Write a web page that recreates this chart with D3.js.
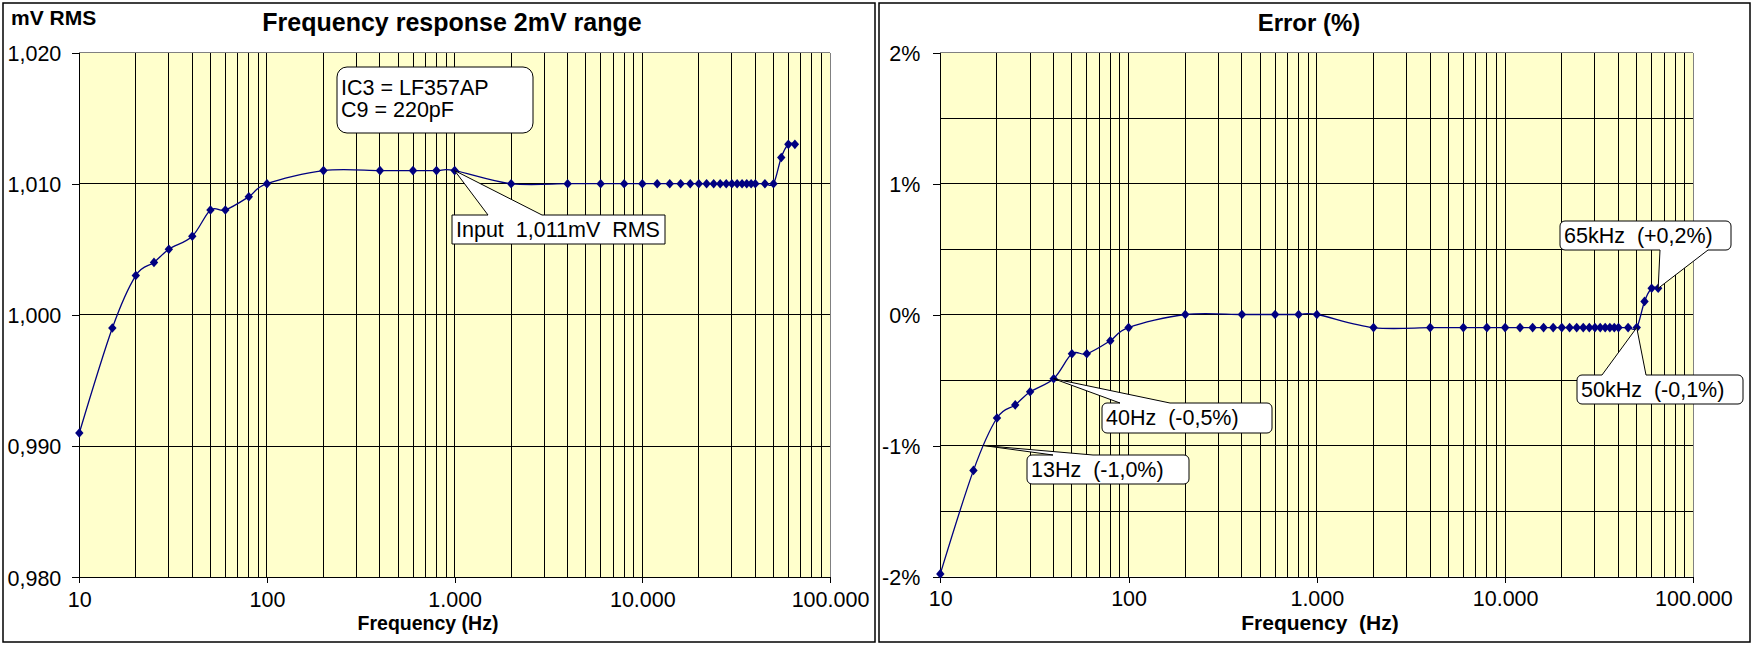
<!DOCTYPE html>
<html><head><meta charset="utf-8">
<script src="https://cdn.jsdelivr.net/npm/d3@7"></script>
<style>
html,body{margin:0;padding:0;background:#fff;}
svg text{font-family:"Liberation Sans",Arial,sans-serif;white-space:pre;}
</style></head><body>
<svg id="c" width="1755" height="648" xml:space="preserve"></svg>
<script>
// ---------- data ----------
const frequencies = [10,15,20,25,30,40,50,60,80,100,
  200,400,600,800,1000,
  2000,4000,6000,8000,
  10000,12000,14000,16000,18000,20000,22000,24000,26000,28000,30000,32000,34000,36000,38000,40000,
  45000,50000,55000,60000,65000];
const voltageMV = [0.991,0.999,1.003,1.004,1.005,1.006,1.008,1.008,1.009,1.010,
  1.011,1.011,1.011,1.011,1.011,
  1.010,1.010,1.010,1.010,
  1.010,1.010,1.010,1.010,1.010,1.010,1.010,1.010,1.010,1.010,1.010,1.010,1.010,1.010,1.010,1.010,
  1.010,1.010,1.012,1.013,1.013];
const errorPercent = [-1.98,-1.19,-0.79,-0.69,-0.59,-0.49,-0.30,-0.30,-0.20,-0.10,
  0,0,0,0,0,
  -0.10,-0.10,-0.10,-0.10,
  -0.10,-0.10,-0.10,-0.10,-0.10,-0.10,-0.10,-0.10,-0.10,-0.10,-0.10,-0.10,-0.10,-0.10,-0.10,-0.10,
  -0.10,-0.10,0.10,0.20,0.20];
const xTickValues = [10,100,1000,10000,100000];
const xTickLabels = ["10","100","1.000","10.000","100.000"];
const voltTickValues = [0.98,0.99,1.00,1.01,1.02];
const voltTickLabels = ["0,980","0,990","1,000","1,010","1,020"];
const voltGridValues = [0.99,1.00,1.01];
const errTickValues = [-2,-1,0,1,2];
const errTickLabels = ["-2%","-1%","0%","1%","2%"];
const errGridValues = [-1.5,-1,-0.5,0,0.5,1,1.5];

// ---------- drawing ----------
const svg = d3.select("#c");
const FONT = "Liberation Sans, Arial, sans-serif";
const NAVY = "#000080";

const diamond = {draw(ctx){ const w=4.2,h=4.8; ctx.moveTo(0,-h); ctx.lineTo(w,0); ctx.lineTo(0,h); ctx.lineTo(-w,0); ctx.closePath(); }};

function calloutPath(b, r, wedge, x, y){
  const [bx,by,bw,bh] = b;
  const p = d3.path();
  p.moveTo(bx+r, by);
  if (wedge && wedge.side==="top"){ const t=[x(wedge.tip[0]),y(wedge.tip[1])]; p.lineTo(wedge.a,by); p.lineTo(t[0],t[1]); p.lineTo(wedge.b,by); }
  p.lineTo(bx+bw-r, by);
  if (r) p.arcTo(bx+bw,by,bx+bw,by+r,r);
  p.lineTo(bx+bw, by+bh-r);
  if (r) p.arcTo(bx+bw,by+bh,bx+bw-r,by+bh,r);
  if (wedge && wedge.side==="bottom"){ const t=[x(wedge.tip[0]),y(wedge.tip[1])]; p.lineTo(wedge.b,by+bh); p.lineTo(t[0],t[1]); p.lineTo(wedge.a,by+bh); }
  p.lineTo(bx+r, by+bh);
  if (r) p.arcTo(bx,by+bh,bx,by+bh-r,r);
  p.lineTo(bx, by+r);
  if (r) p.arcTo(bx,by,bx+r,by,r);
  p.closePath();
  return p.toString();
}

function panel(cfg){
  const g = svg.append("g");
  g.append("rect").attr("x",cfg.frame[0]).attr("y",cfg.frame[1]).attr("width",cfg.frame[2]).attr("height",cfg.frame[3])
    .attr("fill","#fff").attr("stroke","#000").attr("stroke-width",1.5);
  const x = d3.scaleLog().domain([10,100000]).range([cfg.x0,cfg.x1]);
  const y = d3.scaleLinear().domain(cfg.yDomain).range([cfg.yBottom,cfg.yTop]);
  g.append("rect").attr("x",cfg.x0).attr("y",cfg.yTop).attr("width",cfg.x1-cfg.x0).attr("height",cfg.yBottom-cfg.yTop).attr("fill","#FFFFCC");
  const grid = g.append("g").attr("stroke","#000").attr("stroke-width",1).attr("shape-rendering","crispEdges");
  grid.selectAll("line.v").data(x.ticks().filter(v=>v>10 && v<100000)).join("line").attr("class","v")
    .attr("x1",d=>x(d)).attr("x2",d=>x(d)).attr("y1",cfg.yTop).attr("y2",cfg.yBottom);
  grid.selectAll("line.h").data(cfg.grid).join("line").attr("class","h")
    .attr("x1",cfg.x0).attr("x2",cfg.x1).attr("y1",d=>y(d)).attr("y2",d=>y(d));
  const border = g.append("g").attr("stroke","#808080").attr("shape-rendering","crispEdges");
  border.append("line").attr("x1",cfg.x0).attr("x2",cfg.x1).attr("y1",cfg.yTop).attr("y2",cfg.yTop);
  border.append("line").attr("x1",cfg.x1).attr("x2",cfg.x1).attr("y1",cfg.yTop).attr("y2",cfg.yBottom);

  const yAxis = d3.axisLeft(y).tickValues(cfg.yTicks).tickFormat(d=>cfg.yLabels[cfg.yTicks.indexOf(d)])
    .tickSize(7).tickSizeOuter(0).tickPadding(cfg.yPad);
  const ya = g.append("g").attr("transform",`translate(${cfg.x0},0)`).call(yAxis)
    .attr("font-family",FONT).attr("font-size",cfg.tickFont).attr("shape-rendering","crispEdges");
  ya.selectAll("text").attr("fill","#000").attr("dy","0.36em");
  ya.selectAll("line,path").attr("stroke","#000");

  const xAxis = d3.axisBottom(x).tickValues(xTickValues).tickFormat(d=>xTickLabels[xTickValues.indexOf(d)])
    .tickSize(6).tickSizeOuter(0).tickPadding(8);
  const xa = g.append("g").attr("transform",`translate(0,${cfg.yBottom})`).call(xAxis)
    .attr("font-family",FONT).attr("font-size",cfg.tickFont).attr("shape-rendering","crispEdges");
  xa.selectAll("text").attr("fill","#000");
  xa.selectAll("line,path").attr("stroke","#000");

  const pts = frequencies.map((f,i)=>({f, v: cfg.values[i]}));
  g.append("path").datum(pts).attr("fill","none").attr("stroke",NAVY).attr("stroke-width",1.3)
    .attr("d", d3.line().x(d=>x(d.f)).y(d=>y(d.v)).curve(d3.curveCardinal.tension(0)));
  g.selectAll("path.m").data(pts).join("path").attr("class","m")
    .attr("transform",d=>`translate(${x(d.f)},${y(d.v)})`)
    .attr("d", d3.symbol().type(diamond)()).attr("fill",NAVY);

  // titles
  g.append("text").attr("x",cfg.title[1]).attr("y",31).attr("text-anchor","middle")
    .attr("font-size",cfg.title[2]).attr("font-weight","bold").text(cfg.title[0]);
  g.append("text").attr("x",cfg.xTitle[1]).attr("y",630).attr("text-anchor","middle")
    .attr("font-size",cfg.xTitle[2]).attr("font-weight","bold").text(cfg.xTitle[0]);
  if (cfg.yTitle) g.append("text").attr("x",11).attr("y",25).attr("font-size",21).attr("font-weight","bold").text(cfg.yTitle);

  // callouts
  cfg.callouts.forEach(c=>{
    g.append("path").attr("d",calloutPath(c.box,c.r,c.wedge,x,y)).attr("fill","#fff").attr("stroke","#000").attr("stroke-width",1);
    c.lines.forEach((t,i)=>{
      g.append("text").attr("x",c.box[0]+4).attr("y",c.box[1]+c.base[i]).attr("font-size",21.5).attr("fill","#000").text(t);
    });
  });
}

panel({
  frame:[3,3,872,639], x0:79.3, x1:830, yTop:52.5, yBottom:577.3,
  yDomain:[0.98,1.02], values:voltageMV, grid:voltGridValues,
  yTicks:voltTickValues, yLabels:voltTickLabels, yPad:11, tickFont:21.5,
  title:["Frequency response 2mV range",452,25], xTitle:["Frequency (Hz)",428,19.5], yTitle:"mV RMS",
  callouts:[
    {box:[337,67,196,66], r:10, lines:["IC3 = LF357AP","C9 = 220pF"], base:[28,50]},
    {box:[452,215,213,29], r:0, lines:["Input  1,011mV  RMS"], base:[22], wedge:{side:"top",a:488,b:542,tip:[1000,1.011]}}
  ]
});
panel({
  frame:[879,3,871,639], x0:940.3, x1:1693.4, yTop:52.5, yBottom:576.5,
  yDomain:[-2,2], values:errorPercent, grid:errGridValues,
  yTicks:errTickValues, yLabels:errTickLabels, yPad:13, tickFont:21.5,
  title:["Error (%)",1309,24], xTitle:["Frequency  (Hz)",1320,21],
  callouts:[
    {box:[1102,403,170,30], r:5, lines:["40Hz  (-0,5%)"], base:[22], wedge:{side:"top",a:1120,b:1170,tip:[40,-0.49]}},
    {box:[1027,455,162,29], r:5, lines:["13Hz  (-1,0%)"], base:[22], wedge:{side:"top",a:1053,b:1093,tip:[16.9,-1.0]}},
    {box:[1560,221,171,29], r:5, lines:["65kHz  (+0,2%)"], base:[22], wedge:{side:"bottom",a:1660,b:1708,tip:[65000,0.2]}},
    {box:[1577,375,166,29], r:5, lines:["50kHz  (-0,1%)"], base:[22], wedge:{side:"top",a:1602,b:1646,tip:[50000,-0.1]}}
  ]
});
</script>
</body></html>
